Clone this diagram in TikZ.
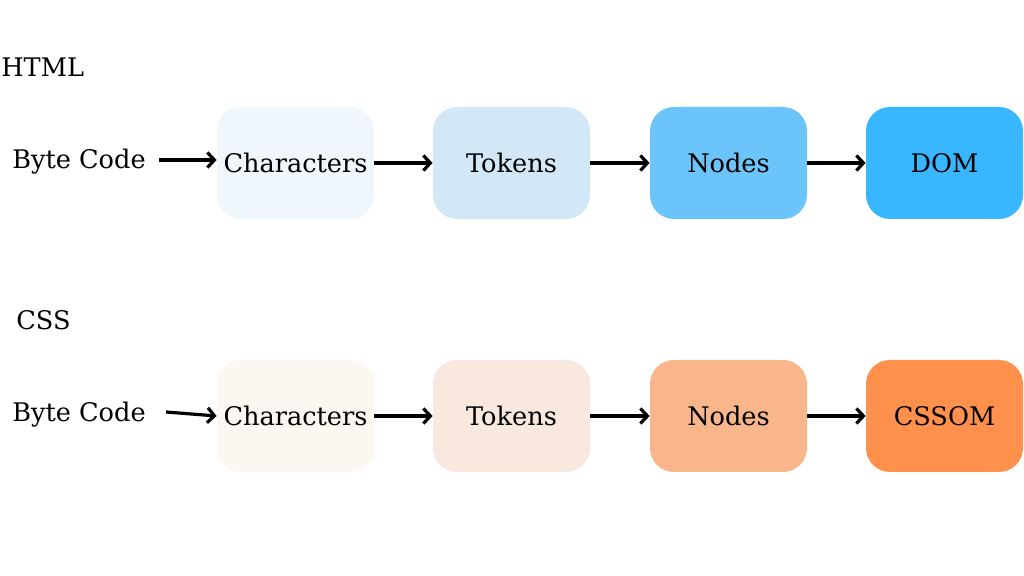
\documentclass[tikz,border=0pt]{standalone}
\usepackage{fontspec}
\setmainfont{DejaVu Serif}
\usetikzlibrary{arrows.meta}

\definecolor{htmlA}{HTML}{EFF7FD}
\definecolor{htmlB}{HTML}{D2E8F7}
\definecolor{htmlC}{HTML}{6CC5FA}
\definecolor{htmlD}{HTML}{38B6FF}
\definecolor{cssA}{HTML}{FDF7F2}
\definecolor{cssB}{HTML}{F9E8DD}
\definecolor{cssC}{HTML}{F9B68B}
\definecolor{cssD}{HTML}{FF914D}

\tikzset{
    stagebox/.style={rounded corners=12pt, minimum width=78.5pt, minimum height=56pt, inner sep=0pt, font=\fontsize{12.8}{15}\selectfont},
    label/.style={inner sep=0pt, font=\fontsize{12.8}{15}\selectfont},
    flow/.style={line width=1.6pt, -{Straight Barb[length=3.5pt,width=7.5pt,line width=1.6pt]}}
}

\begin{document}
\begin{tikzpicture}[x=0.5pt, y=-0.5pt]
    \useasboundingbox (0,0) rectangle (1024,576);

    % Fila HTML
    \node[label, anchor=west] (html) at (1,67) {HTML};
    \node[label] (hbyte) at (79,162) {Byte Code};
    \node[stagebox, fill=htmlA] (hchar) at (295.5,163) {Characters};
    \node[stagebox, fill=htmlB] (htok) at (511.5,163) {Tokens};
    \node[stagebox, fill=htmlC] (hnode) at (728.5,163) {Nodes};
    \node[stagebox, fill=htmlD] (hdom) at (944.5,163) {DOM};

    \draw[flow] ([xshift=6.5pt,yshift=1pt]hbyte.east) -- ([yshift=1.5pt]hchar.west);
    \draw[flow] (hchar.east) -- (htok.west);
    \draw[flow] (htok.east) -- (hnode.west);
    \draw[flow] (hnode.east) -- (hdom.west);

    % Fila CSS
    \node[label, anchor=west] (css) at (16,320) {CSS};
    \node[label] (cbyte) at (79,415) {Byte Code};
    \node[stagebox, fill=cssA] (cchar) at (295.5,416) {Characters};
    \node[stagebox, fill=cssB] (ctok) at (511.5,416) {Tokens};
    \node[stagebox, fill=cssC] (cnode) at (728.5,416) {Nodes};
    \node[stagebox, fill=cssD] (ccssom) at (944.5,416) {CSSOM};

    \draw[flow] ([xshift=10pt,yshift=1.5pt]cbyte.east) -- (cchar.west);
    \draw[flow] (cchar.east) -- (ctok.west);
    \draw[flow] (ctok.east) -- (cnode.west);
    \draw[flow] (cnode.east) -- (ccssom.west);
\end{tikzpicture}
\end{document}
